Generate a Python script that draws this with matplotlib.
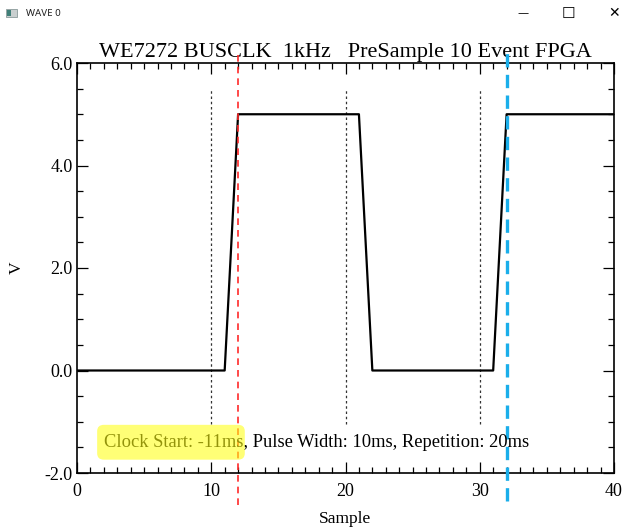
import matplotlib
matplotlib.use("Agg")
import matplotlib.pyplot as plt
from matplotlib.patches import FancyBboxPatch, Rectangle
from matplotlib.ticker import MultipleLocator, FormatStrFormatter

# waveform corners (sample, volts)
sample = [0, 11, 12, 21, 22, 31, 32, 40]
volts = [0, 0, 5, 5, 0, 0, 5, 5]

# guide lines
grid_marks = [10, 20, 30]
clock_start = 12
trigger = 32

title = "WE7272 BUSCLK  1kHz   PreSample 10 Event FPGA"
note = "Clock Start: -11ms, Pulse Width: 10ms, Repetition: 20ms"

W, H = 627, 532
plt.rcParams['font.family'] = ['Liberation Serif', 'DejaVu Serif']
plt.rcParams['axes.unicode_minus'] = False

fig = plt.figure(figsize=(W / 100, H / 100), dpi=100)
fig.patch.set_facecolor('white')


def px(x, y):
    return x / W, 1 - y / H


# window title bar
fig.patches.append(Rectangle(px(6, 17), 11 / W, 8 / H, transform=fig.transFigure,
                             facecolor='#c9cfcf', edgecolor='#8a9a9a', lw=0.6))
fig.patches.append(Rectangle(px(7, 16), 4 / W, 6 / H, transform=fig.transFigure,
                             facecolor='#3f7f78', edgecolor='none'))
fig.text(*px(26, 13), "WAVE 0", family='Noto Sans', fontsize=7, va='center', ha='left',
         color='#222222')
fig.text(*px(523, 13), "\u2014", family='DejaVu Sans', fontsize=8, va='center', ha='center')
fig.text(*px(568, 13), "\u2610", family='DejaVu Sans', fontsize=11, va='center', ha='center')
fig.text(*px(614, 13), "\u2715", family='DejaVu Sans', fontsize=10, va='center', ha='center')

ax = fig.add_axes([77 / W, (H - 473) / H, 537 / W, 410 / H])
ax.plot(sample, volts, color='black', lw=1.6, zorder=3)

for g in grid_marks:
    ax.plot([g, g], [-1.05, 5.5], color='#333333', lw=0.9, ls=(0, (2, 2.2)), zorder=2)

ax.plot([clock_start, clock_start], [-2.62, 6.25], color='#ff2a2a', lw=1.2,
        ls=(0, (4, 3)), clip_on=False, zorder=4)
ax.plot([trigger, trigger], [-2.55, 6.32], color='#1aaeea', lw=2.4,
        ls=(0, (4, 2.2)), clip_on=False, zorder=4)

ax.text(2.0, -1.41, note, fontsize=13.3, va='center', ha='left', zorder=5)
mark = FancyBboxPatch((1.5, -1.74), 11.0, 0.68,
                      boxstyle="round,pad=0,rounding_size=0.5", mutation_aspect=0.25,
                      facecolor='#ffff14', edgecolor='none', alpha=0.58, zorder=6)
ax.add_patch(mark)

ax.set_xlim(0, 40)
ax.set_ylim(-2, 6)
ax.xaxis.set_major_locator(MultipleLocator(10))
ax.xaxis.set_minor_locator(MultipleLocator(1))
ax.yaxis.set_major_locator(MultipleLocator(2))
ax.yaxis.set_minor_locator(MultipleLocator(0.5))
ax.yaxis.set_major_formatter(FormatStrFormatter('%.1f'))
ax.tick_params(which='both', direction='in', top=True, right=True, width=0.9,
               labelsize=13)
ax.tick_params(which='major', length=8)
ax.tick_params(which='minor', length=4)
ax.tick_params(axis='x', pad=7)
ax.tick_params(axis='y', pad=3)
for s in ax.spines.values():
    s.set_linewidth(1.2)

ax.set_title(title, fontsize=16, pad=4)
ax.set_xlabel("Sample", fontsize=12.5, labelpad=8)
ax.set_ylabel("V", fontsize=12.5, labelpad=14)

fig.savefig("out.png", dpi=100)
